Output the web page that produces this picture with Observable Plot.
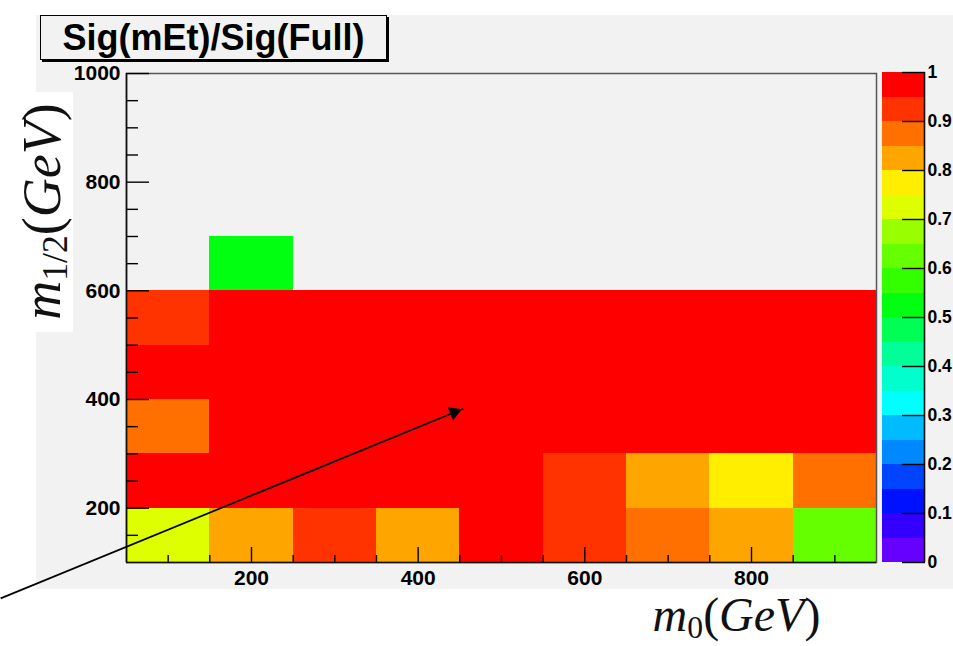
<!DOCTYPE html>
<html>
<head>
<meta charset="utf-8">
<script src="https://cdn.jsdelivr.net/npm/d3@7"></script>
<script src="https://cdn.jsdelivr.net/npm/@observablehq/plot@0.6"></script>
<style>
  html, body { margin: 0; padding: 0; background: #fff; }
  #stage { position: relative; width: 953px; height: 646px; overflow: hidden;
           font-family: "Liberation Sans", Arial, sans-serif; color: #000; }
  #pad { position: absolute; left: 36px; top: 15px; width: 917px; height: 574px; background: #f2f2f2; }
  #stage svg { position: absolute; left: 0; top: 0; }
  #title { position: absolute; left: 40px; top: 15px; width: 345px; height: 43px;
           border: 1px solid #000; box-shadow: 2px 2px 0 #000; background: #f2f2f2;
           font-weight: bold; font-size: 36px; text-align: center; line-height: 44px;
           z-index: 3; }
  .mathbox { position: absolute; background: #fff; z-index: 2; }
  .math { position: absolute; font-family: "Liberation Serif", "Times New Roman", serif;
          color: #111; white-space: nowrap; text-align: center; }
  .math i { font-style: italic; }
  .math sub { font-size: 0.66em; vertical-align: -0.22em; font-style: normal; line-height: 0; }
</style>
</head>
<body>
<div id="stage">
  <div id="pad"></div>
  <div id="title">Sig(mEt)/Sig(Full)</div>
  <div class="mathbox" style="left:10px; top:92px; width:63px; height:240px;">
    <div class="math" style="left:-88px; top:88px; width:240px; height:63px; line-height:62px; font-size:54px; transform: rotate(-90deg);">
      <i>m</i><sub>1/2</sub>(<i>GeV</i>)
    </div>
  </div>
  <div class="mathbox" style="left:630px; top:590px; width:213px; height:56px;">
    <div class="math" style="left:0; top:1px; width:213px; height:48px; line-height:48px; font-size:48px;">
      <i>m</i><sub>0</sub>(<i>GeV</i>)
    </div>
  </div>
</div>
<script>
// m0 bin centres (GeV); every bin is 100 GeV wide
const m0Centers = [100, 200, 300, 400, 500, 600, 700, 800, 900];
const binWidth = 100;

// Sig(mEt)/Sig(Full) per m1/2 row (bin centre in GeV); null = empty bin
const ratioM12_150 = [0.72, 0.82, 0.92, 0.82, 0.98, 0.92, 0.87, 0.82, 0.62];
const ratioM12_250 = [0.98, 0.98, 0.98, 0.98, 0.98, 0.92, 0.82, 0.77, 0.87];
const ratioM12_350 = [0.87, 0.98, 0.98, 0.98, 0.98, 0.98, 0.98, 0.98, 0.98];
const ratioM12_450 = [0.98, 0.98, 0.98, 0.98, 0.98, 0.98, 0.98, 0.98, 0.98];
const ratioM12_550 = [0.92, 0.98, 0.98, 0.98, 0.98, 0.98, 0.98, 0.98, 0.98];
const ratioM12_650 = [null, 0.52, null, null, null, null, null, null, null];

const m12Rows = [150, 250, 350, 450, 550, 650];
const ratioRows = [ratioM12_150, ratioM12_250, ratioM12_350, ratioM12_450, ratioM12_550, ratioM12_650];

// Axis ticks
const xMajorTicks = [200, 400, 600, 800];
const xMinorTicks = [100, 150, 250, 300, 350, 450, 500, 550, 650, 700, 750, 850, 900];
const yMajorTicks = [200, 400, 600, 800, 1000];
const yMinorTicks = [150, 250, 300, 350, 450, 500, 550, 650, 700, 750, 850, 900, 950];

// Colour bar: 20 contour levels from 0 to 1
const levelEdges = [0, 0.05, 0.1, 0.15, 0.2, 0.25, 0.3, 0.35, 0.4, 0.45, 0.5,
                    0.55, 0.6, 0.65, 0.7, 0.75, 0.8, 0.85, 0.9, 0.95, 1];
const levelColors = ["#6600ff", "#3300ff", "#0011ff", "#0044ff", "#0088ff",
                     "#00bbff", "#00ffff", "#00ffcc", "#00ff99", "#00ff55",
                     "#00ff11", "#33ff00", "#66ff00", "#99ff00", "#ddff00",
                     "#ffee00", "#ffa500", "#ff7000", "#ff3300", "#ff0000"];
const colorTicks = [0, 0.1, 0.2, 0.3, 0.4, 0.5, 0.6, 0.7, 0.8, 0.9, 1];
const colorTickLabels = ["0", "0.1", "0.2", "0.3", "0.4", "0.5", "0.6", "0.7", "0.8", "0.9", "1"];

// Annotation arrow, in (m0, m1/2) coordinates
const arrowFrom = {m0: -101, m12: 34};
const arrowTo = {m0: 454, m12: 383};

const cells = [];
ratioRows.forEach((row, j) => {
  row.forEach((v, i) => {
    if (v == null) return;
    cells.push({
      x1: m0Centers[i] - binWidth / 2, x2: m0Centers[i] + binWidth / 2,
      y1: m12Rows[j] - binWidth / 2, y2: m12Rows[j] + binWidth / 2,
      ratio: v
    });
  });
});

const colorScale = {
  type: "threshold",
  domain: levelEdges.slice(1, -1),
  range: levelColors
};

const font = {fontFamily: "Liberation Sans, Arial, sans-serif", fontWeight: "bold", fontSize: 21};

const main = Plot.plot({
  width: 953, height: 646,
  marginTop: 73, marginBottom: 84, marginLeft: 126, marginRight: 77,
  style: {background: "transparent", overflow: "visible", color: "#000",
          fontFamily: "Liberation Sans, Arial, sans-serif"},
  x: {domain: [50, 950]},
  y: {domain: [100, 1000]},
  color: colorScale,
  marks: [
    Plot.frame({fill: "#f2f2f2"}),
    Plot.rect(cells, {x1: "x1", x2: "x2", y1: "y1", y2: "y2", fill: "ratio",
                      shapeRendering: "crispEdges"}),
    Plot.frame({stroke: "#555", strokeWidth: 1.5}),
    Plot.ruleX([50], {stroke: "#111", strokeWidth: 1.6}),
    Plot.ruleY([100], {stroke: "#111", strokeWidth: 1.6}),
    Plot.axisX({ticks: xMajorTicks, tickSize: -15, tickPadding: 23, tickFormat: "d",
                label: null, strokeWidth: 1.4, ...font}),
    Plot.axisX({ticks: xMinorTicks, tickSize: -7, tickFormat: () => "", label: null, strokeWidth: 1.4}),
    Plot.axisY({ticks: yMajorTicks, tickSize: -23, tickPadding: 29, tickFormat: "d",
                label: null, strokeWidth: 1.4, ...font}),
    Plot.axisY({ticks: yMinorTicks, tickSize: -12, tickFormat: () => "", label: null, strokeWidth: 1.4}),
    Plot.link([{from: arrowFrom, to: arrowTo}], {
      x1: d => d.from.m0, y1: d => d.from.m12, x2: d => d.to.m0, y2: d => d.to.m12,
      stroke: "#000", strokeWidth: 1.7
    }),
    Plot.dot([arrowTo], {x: "m0", y: "m12", symbol: "triangle2", r: 6.8,
                         fill: "#000", stroke: "none", rotate: 68, dx: -9, dy: 3.6})
  ]
});

const bands = levelColors.map((c, i) => ({lo: levelEdges[i], hi: levelEdges[i + 1], mid: (levelEdges[i] + levelEdges[i + 1]) / 2}));

const colorbar = Plot.plot({
  width: 953, height: 646,
  marginTop: 72, marginBottom: 84, marginLeft: 882, marginRight: 29,
  style: {background: "transparent", overflow: "visible", color: "#000",
          fontFamily: "Liberation Sans, Arial, sans-serif"},
  x: {domain: [0, 1], axis: null},
  y: {domain: [0, 1]},
  color: colorScale,
  marks: [
    Plot.rect(bands, {x1: 0, x2: 1, y1: "lo", y2: "hi", fill: "mid", shapeRendering: "crispEdges"}),
    Plot.ruleX([1], {stroke: "#111", strokeWidth: 1.6}),
    Plot.axisY({anchor: "right", ticks: colorTicks, tickSize: -23, tickPadding: 26,
                tickFormat: (d, i) => colorTickLabels[i], label: null, strokeWidth: 1.4,
                fontFamily: "Liberation Sans, Arial, sans-serif", fontWeight: "bold", fontSize: 17.5})
  ]
});

const stage = document.getElementById("stage");
stage.insertBefore(main, document.getElementById("title"));
stage.insertBefore(colorbar, document.getElementById("title"));
</script>
</body>
</html>
